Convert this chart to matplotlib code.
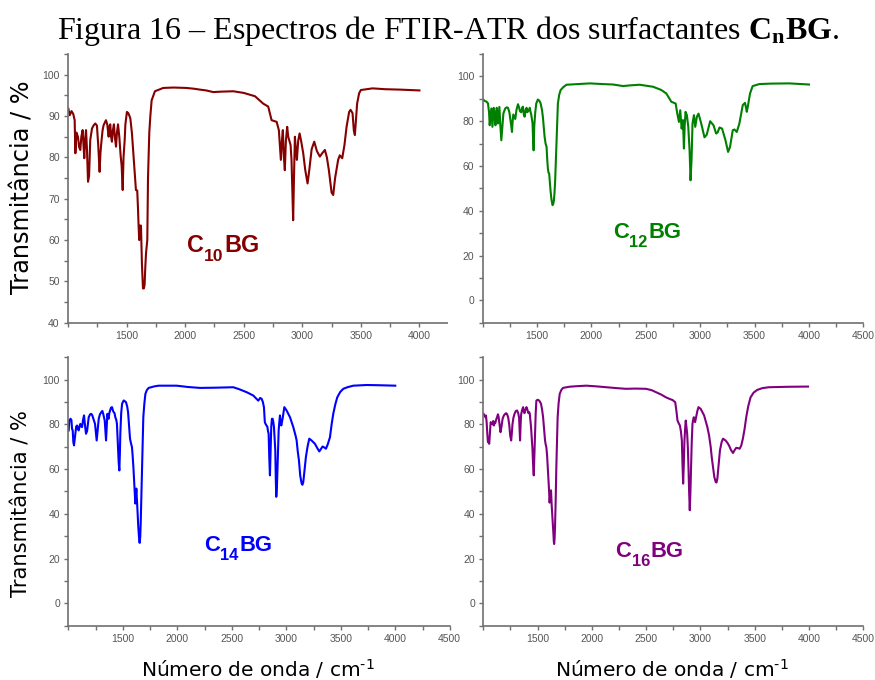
import matplotlib.pyplot as plt
from matplotlib.patches import Rectangle
from matplotlib.ticker import FixedLocator, MultipleLocator

plt.rcParams["mathtext.fontset"] = "custom"
plt.rcParams["mathtext.bf"] = "Liberation Serif:bold"

# FTIR-ATR spectra, wavenumber (cm-1) and transmittance (%)
c10_wn = [1003, 1015, 1030, 1045, 1057, 1063, 1072, 1085, 1095, 1105, 1114, 1125, 1132, 1139,
          1147, 1154, 1162, 1171, 1180, 1190, 1205, 1220, 1233, 1247, 1258, 1270, 1277, 1284,
          1295, 1304, 1324, 1335, 1347, 1354, 1361, 1368, 1375, 1383, 1392, 1400, 1410, 1418,
          1427, 1438, 1450, 1458, 1467, 1474, 1484, 1490, 1503, 1515, 1532, 1546, 1560, 1569,
          1580, 1591, 1597, 1603, 1608, 1614, 1623, 1631, 1640, 1648, 1654, 1660, 1666, 1677,
          1683, 1694, 1703, 1714, 1742, 1813, 1900, 2012, 2080, 2126, 2180, 2240, 2300, 2411,
          2500, 2596, 2667, 2709, 2738, 2781, 2800, 2817, 2826, 2834, 2843, 2851, 2860, 2871,
          2880, 2888, 2900, 2908, 2915, 2922, 2929, 2937, 2945, 2954, 2965, 2977, 2990, 3008,
          3025, 3045, 3060, 3080, 3102, 3125, 3150, 3170, 3193, 3210, 3227, 3250, 3264, 3280,
          3306, 3320, 3341, 3360, 3378, 3400, 3412, 3429, 3440, 3449, 3458, 3468, 3485, 3500,
          3550, 3600, 3705, 3833, 4000]
c10_t = [91.8, 90.2, 91.2, 90.5, 89, 81, 86, 85, 82.5, 81.8, 85, 86.6, 83, 79.8,
         84.5, 86.6, 82, 74.1, 75.5, 84.2, 87, 87.8, 88.2, 87.7, 83, 76.5, 81, 83.4,
         86.5, 87.8, 89, 88, 85, 87.5, 88, 85, 83.8, 86.5, 88, 85, 82.6, 86,
         88, 85, 80.2, 78, 72.1, 80, 84.2, 88, 91, 90.7, 89.5, 85.8, 80, 76.5,
         72.1, 72, 68, 63.2, 60, 63.5, 63.5, 54.4, 48.3, 48.3, 49.2, 53.5, 56.8, 60,
         75, 86, 90, 93.8, 96, 96.8, 96.9, 96.8, 96.6, 96.4, 96.2, 95.8, 95.9, 96,
         95.6, 94.8, 93, 92.3, 89, 88.6, 86.6, 79.4, 84, 86.6, 80, 76.9, 84, 87.4,
         85, 84.2, 83, 79.4, 72, 64.8, 75, 85, 82, 79.4, 84, 85.8, 84, 81,
         77, 73.7, 77, 82, 83.8, 81.5, 80.2, 81, 81.8, 80, 76.9, 71.5, 70.9, 75,
         79.4, 80.5, 79.8, 83, 87.4, 91, 91.5, 90.7, 86.5, 85.4, 89, 93, 95.5, 96.3,
         96.5, 96.7, 96.5, 96.4, 96.2]

c12_wn = [1003, 1020, 1033, 1048, 1058, 1064, 1072, 1079, 1089, 1095, 1101, 1110, 1117, 1123,
          1129, 1135, 1141, 1147, 1153, 1162, 1171, 1180, 1190, 1207, 1220, 1232, 1245, 1251,
          1262, 1269, 1275, 1281, 1290, 1299, 1310, 1324, 1335, 1342, 1354, 1362, 1370, 1378,
          1385, 1395, 1403, 1410, 1415, 1425, 1433, 1440, 1446, 1452, 1458, 1463, 1468, 1474,
          1483, 1492, 1507, 1520, 1532, 1545, 1553, 1562, 1569, 1578, 1587, 1593, 1599, 1605,
          1611, 1617, 1623, 1632, 1642, 1648, 1654, 1660, 1666, 1672, 1679, 1685, 1691, 1703,
          1716, 1740, 1770, 1875, 1985, 2100, 2199, 2291, 2350, 2443, 2566, 2640, 2688, 2734,
          2774, 2789, 2804, 2816, 2829, 2841, 2850, 2857, 2865, 2877, 2890, 2902, 2911, 2920,
          2929, 2942, 2954, 2969, 2984, 3009, 3039, 3060, 3091, 3122, 3146, 3160, 3177, 3201,
          3232, 3256, 3274, 3299, 3315, 3336, 3360, 3391, 3412, 3428, 3437, 3458, 3482, 3544,
          3650, 3819, 4000]
c12_t = [89.7, 89, 88.8, 88, 84, 78.2, 82, 85.7, 77.5, 82, 86, 82, 78.2, 84,
         86, 83, 79, 83, 86.4, 78, 71.5, 77, 83.5, 85.7, 86.2, 86, 84, 82,
         78, 75.2, 80, 83, 82, 81, 85, 87.6, 86, 84.5, 84, 86, 86.5, 83,
         82, 85, 86, 84, 84.4, 85, 86, 84, 83, 81, 79, 72, 67, 78,
         84, 87.9, 89.7, 89.2, 88, 85, 81.9, 77, 73, 70, 68.5, 63, 58.9, 57,
         56.6, 53, 49.2, 45, 42.5, 43, 44.5, 48, 53.6, 62, 71.5, 81, 87.9, 91.8,
         93.9, 95.2, 96.3, 96.6, 96.9, 96.6, 96.4, 95.7, 96, 96.3, 95.4, 94, 92.4, 88.7,
         87.9, 83.4, 79.7, 84.9, 76.7, 80.5, 67.8, 78, 84.2, 82.7, 77.5, 67, 53.6, 62.6,
         79, 82.7, 77.5, 82, 83.4, 79, 72.8, 74, 80, 78.2, 74.5, 75, 77.2, 76.7,
         71.5, 66.3, 68.5, 76, 76.3, 75.2, 79, 87.2, 88.2, 84.2, 86.4, 92.4, 95.7, 96.6,
         96.8, 96.9, 96.4]

c14_wn = [1003, 1009, 1020, 1028, 1034, 1040, 1046, 1052, 1058, 1065, 1072, 1080, 1088, 1095,
          1102, 1110, 1118, 1126, 1135, 1144, 1152, 1162, 1172, 1187, 1200, 1211, 1220, 1230,
          1245, 1253, 1260, 1268, 1279, 1290, 1303, 1312, 1321, 1334, 1340, 1346, 1352, 1358,
          1364, 1370, 1376, 1383, 1392, 1401, 1410, 1416, 1424, 1431, 1440, 1446, 1451, 1456,
          1462, 1468, 1473, 1477, 1485, 1493, 1508, 1520, 1529, 1540, 1548, 1556, 1566, 1575,
          1584, 1590, 1597, 1602, 1606, 1611, 1615, 1620, 1624, 1630, 1636, 1641, 1646, 1652,
          1655, 1660, 1664, 1670, 1676, 1682, 1688, 1697, 1707, 1720, 1737, 1790, 1829, 1994,
          2100, 2208, 2350, 2514, 2575, 2640, 2697, 2743, 2760, 2774, 2785, 2795, 2803, 2810,
          2818, 2826, 2832, 2838, 2844, 2850, 2856, 2862, 2868, 2875, 2881, 2887, 2893, 2899,
          2904, 2908, 2914, 2920, 2925, 2930, 2936, 2942, 2948, 2954, 2960, 2966, 2974, 2982,
          3003, 3034, 3064, 3085, 3095, 3105, 3116, 3128, 3141, 3148, 3156, 3168, 3180, 3195,
          3211, 3222, 3232, 3248, 3263, 3283, 3303, 3318, 3333, 3348, 3364, 3380, 3401, 3416,
          3431, 3450, 3468, 3495, 3523, 3560, 3615, 3737, 3850, 4000]
c14_t = [77.3, 81.7, 82.5, 82, 78, 77.3, 72, 70.6, 73, 75.8, 79, 79.5, 78, 77.3,
         79, 80.2, 79, 78.8, 82, 84, 80, 75.8, 77, 83.2, 84.5, 84.7, 84, 82.5,
         80.2, 76, 72.8, 77, 82.5, 84.5, 85.5, 86, 84.5, 81.7, 77, 72.8, 79, 84.7,
         83, 82.5, 85, 86.2, 87.5, 87.7, 86, 85.5, 85, 83.2, 82, 80.2, 75, 69.8,
         63, 59.4, 67, 75.8, 85, 89.2, 90.7, 90.3, 89.9, 88, 85.5, 80, 73.6, 71.5,
         69.8, 66, 60.9, 56, 52, 48, 44.6, 48, 51.3, 46, 40.1, 35, 31.2, 27.5,
         27, 30, 35.7, 48, 60.9, 74, 83.2, 89, 93.6, 95.3, 96.3, 97, 97.3, 97.3,
         96.7, 96.3, 96.4, 96.6, 95.6, 94.3, 92.9, 90.6, 91.8, 91.4, 90, 87.7, 81, 80.2,
         79.5, 79, 77, 75.8, 65, 57.2, 68, 78.8, 82.5, 82.5, 81, 78.8, 74, 68.4,
         55, 47.6, 52, 61, 70, 77.3, 81, 84, 81, 79.5, 81, 82.5, 85, 87.7,
         86.2, 83.2, 78.8, 75, 72.8, 68, 63.9, 57, 53.5, 53, 54.2, 60, 65.4, 70,
         73.6, 73.2, 72.8, 72, 71.3, 69.5, 67.9, 69, 70.1, 69.7, 69.1, 71, 74.3, 80,
         84.7, 89, 92.1, 94.5, 95.9, 96.6, 97.3, 97.6, 97.5, 97.3]

c16_wn = [1003, 1010, 1019, 1025, 1031, 1037, 1043, 1049, 1055, 1061, 1068, 1076, 1086, 1092,
          1098, 1104, 1110, 1118, 1129, 1135, 1141, 1150, 1159, 1168, 1178, 1190, 1202, 1211,
          1220, 1230, 1239, 1248, 1257, 1263, 1269, 1278, 1288, 1300, 1312, 1322, 1330, 1335,
          1339, 1344, 1349, 1358, 1367, 1373, 1379, 1388, 1398, 1407, 1416, 1422, 1428, 1434,
          1440, 1446, 1453, 1459, 1465, 1471, 1477, 1483, 1489, 1500, 1508, 1520, 1532, 1542,
          1551, 1560, 1569, 1575, 1581, 1588, 1594, 1600, 1606, 1611, 1615, 1620, 1624, 1630,
          1637, 1642, 1646, 1650, 1653, 1657, 1661, 1667, 1673, 1679, 1685, 1694, 1704, 1718,
          1734, 1790, 1838, 1948, 2040, 2131, 2230, 2314, 2400, 2498, 2550, 2590, 2640, 2682,
          2720, 2743, 2768, 2779, 2789, 2800, 2811, 2820, 2829, 2835, 2841, 2847, 2853, 2859,
          2865, 2871, 2878, 2884, 2890, 2896, 2902, 2908, 2914, 2920, 2927, 2933, 2939, 2945,
          2951, 2957, 2963, 2972, 2982, 3003, 3034, 3064, 3080, 3095, 3105, 3116, 3128, 3141,
          3148, 3156, 3168, 3180, 3195, 3208, 3220, 3232, 3248, 3263, 3282, 3300, 3315, 3330,
          3345, 3361, 3376, 3391, 3407, 3422, 3440, 3462, 3490, 3523, 3570, 3630, 3800, 3991]
c16_t = [84.7, 84, 83.2, 84, 81, 76, 72.1, 72, 71.3, 76, 81, 80.5, 80, 81.5,
         79.5, 81, 80.5, 82, 83.5, 84.5, 83.5, 80, 76.5, 79, 82.5, 84, 84.7, 85,
         84.5, 83, 80, 75, 72.8, 76, 80, 83, 84.7, 86, 86.2, 85, 83, 77,
         72.8, 80, 84.5, 86.5, 87.7, 86, 85, 86.5, 87.7, 86.5, 85, 85.5, 85, 82,
         78.8, 74, 69.1, 62, 57.2, 66, 75.8, 85, 90.6, 91, 90.9, 90.3, 89.2, 86.5,
         83.2, 78, 72.8, 71, 69.8, 66, 60.9, 55, 50.5, 45, 47.6, 49, 50.5, 44,
         38.6, 34, 31.2, 27.5, 26.5, 29, 34.2, 46, 60.9, 73, 83.2, 89.5, 93.6, 95.3,
         96.3, 96.8, 97, 97.3, 97, 96.6, 96.2, 95.9, 96, 95.9, 95.3, 94.4, 93.3, 92.1,
         91.3, 90.9, 89.9, 86, 81.7, 80.5, 79.5, 77, 72.8, 62, 53.5, 62, 72.8, 78,
         81.7, 79, 75.8, 70, 60.9, 50, 41.6, 50, 60.9, 72, 80.2, 82, 83.2, 82,
         81, 82.5, 84, 86, 87.7, 86.9, 84, 78.8, 75, 69.8, 65, 60.9, 56.5, 54.2,
         54, 55.7, 62, 68.4, 72, 73.6, 73.2, 72.8, 71.8, 70.6, 68.5, 67.2, 68.5, 69.5,
         69.4, 69.1, 70.5, 73.6, 78, 83.2, 88, 92.1, 94.2, 95.4, 96.2, 96.6, 96.8, 96.9]

x_major = [1500, 2000, 2500, 3000, 3500, 4000, 4500]
ylabel = "Transmitância / %"
xlabel = "Número de onda / cm$^{\\mathregular{\u20101}}$"

fig = plt.figure(figsize=(8.75, 6.8), dpi=100)


def sample_label(ax, x, y, chain, color, size):
    # "C" + lowered subscript + "BG", each piece chained to the previous one
    style = dict(color=color, fontweight="bold", family="Liberation Sans")
    drop = 0.33 * size
    head = ax.text(x, y, "C", fontsize=size, ha="left", va="baseline", **style)
    sub = ax.annotate(chain, xy=(1, 0), xycoords=head, xytext=(0.4, -drop),
                      textcoords="offset points", fontsize=0.75 * size,
                      ha="left", va="bottom", **style)
    ax.annotate("BG", xy=(1, 0), xycoords=sub, xytext=(0.4, drop),
                textcoords="offset points", fontsize=size,
                ha="left", va="bottom", **style)


def draw_panel(rect, wn, t, color, chain, label_at, label_size, ylim, ystep):
    ax = fig.add_axes(rect)
    ax.plot(wn, t, color=color, lw=1.5)
    ax.set_xlim(1000, 4500)
    ax.set_ylim(*ylim)
    ax.xaxis.set_major_locator(FixedLocator(x_major))
    ax.xaxis.set_minor_locator(MultipleLocator(250))
    ax.yaxis.set_major_locator(MultipleLocator(ystep))
    ax.yaxis.set_minor_locator(MultipleLocator(ystep / 2))
    for side in ("top", "right"):
        ax.spines[side].set_visible(False)
    for side in ("left", "bottom"):
        ax.spines[side].set_color("#707070")
        ax.spines[side].set_linewidth(1.2)
    ax.tick_params(which="both", direction="out", length=3, width=1, color="#707070",
                   labelsize=7.5, labelcolor="#555555", pad=3, labelfontfamily="Liberation Sans")
    sample_label(ax, label_at[0], label_at[1], chain, color, label_size)
    return ax


ax_tl = draw_panel([0.0777, 0.5254, 0.4686, 0.3951], c10_wn, c10_t, "#850000",
                   "10", (2015, 57.2), 16.8, (40, 105), 10)
ax_tr = draw_panel([0.5517, 0.5254, 0.4350, 0.3951], c12_wn, c12_t, "#008000",
                   "12", (2198, 28.0), 15.8, (-10, 110), 20)
ax_bl = draw_panel([0.0781, 0.0799, 0.4359, 0.3947], c14_wn, c14_t, "#0000ff",
                   "14", (2245, 23.4), 15.8, (-10, 110), 20)
ax_br = draw_panel([0.5523, 0.0799, 0.4343, 0.3947], c16_wn, c16_t, "#800080",
                   "16", (2217, 20.8), 15.8, (-10, 110), 20)

# right-hand panels sit on top of the wider upper-left axis
ax_tr.set_zorder(2)
ax_br.set_zorder(2)
fig.add_artist(Rectangle((448 / 875, 1 - 345 / 680), 1 - 448 / 875, 300 / 680,
                         transform=fig.transFigure, facecolor="white",
                         edgecolor="none", zorder=1))

fig.text(23 / 875, 1 - 186.7 / 680, ylabel, rotation=90, fontsize=17.3,
         ha="center", va="center")
fig.text(22 / 875, 1 - 504 / 680, ylabel, rotation=90, fontsize=15.1,
         ha="center", va="center")
fig.text(258 / 875, 1 - 676.7 / 680, xlabel, fontsize=14.5, ha="center", va="baseline")
fig.text(672 / 875, 1 - 676.7 / 680, xlabel, fontsize=14.5, ha="center", va="baseline")

fig.text(448 / 875, 1 - 39 / 680,
         r"Figura 16 – Espectros de FTIR-ATR dos surfactantes $\mathbf{C_n BG}$.",
         fontsize=23, family="Liberation Serif", ha="center", va="baseline")

fig.savefig("out.png", dpi=100)
